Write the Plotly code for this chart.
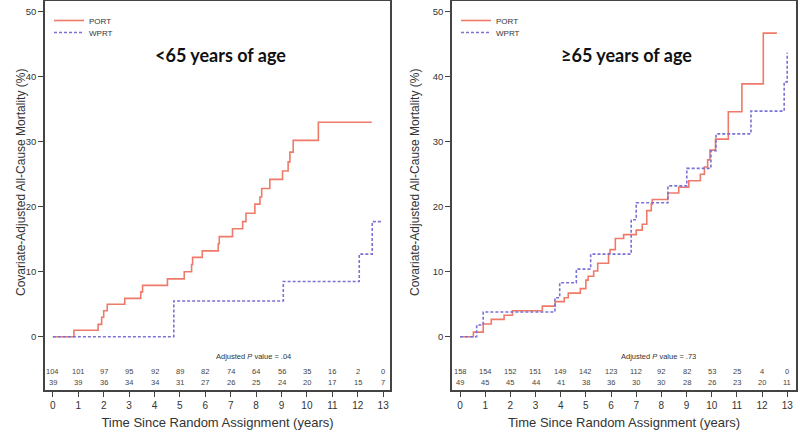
import plotly.graph_objects as go

# ---- data ----
years = list(range(0, 14))

# <65 years of age
left_port_t = [0, 0.83, 1.78, 1.92, 2.0, 2.14, 2.83, 3.46, 3.53, 4.51, 5.17, 5.46, 5.5, 5.88,
               6.51, 6.55, 7.07, 7.47, 7.6, 7.95, 8.15, 8.22, 8.54, 9.04, 9.26, 9.33, 9.46,
               10.45, 12.55]
left_port_v = [0, 1.0, 1.9, 3.0, 4.0, 5.0, 5.9, 6.9, 7.9, 8.9, 10.0, 11.1, 12.2, 13.2,
               14.3, 15.4, 16.6, 17.7, 19.0, 20.4, 21.5, 22.8, 24.2, 25.5, 26.9, 28.4, 30.2,
               33.0, 33.0]
left_wprt_t = [0, 4.76, 9.07, 12.06, 12.57, 12.98]
left_wprt_v = [0, 5.5, 8.5, 12.7, 17.7, 17.7]
left_risk_port = [104, 101, 97, 95, 92, 89, 82, 74, 64, 56, 35, 16, 2, 0]
left_risk_wprt = [39, 39, 36, 34, 34, 31, 27, 26, 25, 24, 20, 17, 15, 7]

# >=65 years of age
right_port_t = [0, 0.53, 0.92, 1.24, 1.75, 2.08, 3.27, 3.78, 4.14, 4.3, 4.78, 5.0, 5.09, 5.31,
                5.47, 5.9, 5.96, 6.17, 6.5, 7.0, 7.24, 7.42, 7.6, 7.64, 8.26, 8.69, 9.09,
                9.55, 9.71, 9.84, 9.93, 10.15, 10.66, 11.2, 12.05, 12.59]
right_port_v = [0, 0.7, 1.95, 2.66, 3.3, 4.0, 4.7, 5.4, 6.0, 6.7, 7.4, 8.7, 9.3, 10.1,
                11.3, 12.8, 13.4, 15.1, 15.7, 16.4, 17.3, 19.4, 20.4, 21.1, 22.1, 23.0, 24.0,
                25.0, 26.1, 27.2, 28.7, 30.4, 34.6, 38.9, 46.7, 46.7]
right_wprt_t = [0, 0.66, 0.92, 3.77, 3.96, 4.62, 5.19, 6.8, 7.0, 8.26, 9.01, 9.97, 10.17,
                11.56, 12.88, 13.0]
right_wprt_v = [0, 1.8, 3.8, 6.0, 8.3, 10.4, 12.7, 18.0, 20.6, 23.2, 25.9, 28.6, 31.2,
                34.7, 39.2, 43.7]
right_risk_port = [158, 154, 152, 151, 149, 142, 123, 112, 92, 82, 53, 25, 4, 0]
right_risk_wprt = [49, 45, 45, 44, 41, 38, 36, 30, 30, 28, 26, 23, 20, 11]

panel_titles = ["<65 years of age", "≥65 years of age"]
p_values = [".04", ".73"]

PORT_COLOR = "#EE7B6A"
WPRT_COLOR = "#7A72D4"
AXIS_COLOR = "#444444"
FONT = "Liberation Sans, Arial, sans-serif"

fig = go.Figure()

panels = [
    ("x", "y", ("legend", "legend3"), left_port_t, left_port_v, left_wprt_t, left_wprt_v,
     left_risk_port, left_risk_wprt),
    ("x2", "y2", ("legend2", "legend4"), right_port_t, right_port_v, right_wprt_t, right_wprt_v,
     right_risk_port, right_risk_wprt),
]

for i, (xa, ya, lg, pt, pv, wt, wv, rp, rw) in enumerate(panels):
    fig.add_trace(go.Scatter(x=pt, y=pv, mode="lines", line_shape="hv", name="PORT",
                             line=dict(color=PORT_COLOR, width=1.6),
                             xaxis=xa, yaxis=ya, legend=lg[0]))
    fig.add_trace(go.Scatter(x=wt, y=wv, mode="lines", line_shape="hv", name="WPRT",
                             line=dict(color=WPRT_COLOR, width=1.6, dash="3px,2px"),
                             xaxis=xa, yaxis=ya, legend=lg[1]))
    for yr, a, b in zip(years, rp, rw):
        fig.add_annotation(x=yr, y=-5.4, xref=xa, yref=ya, text=str(a),
                           showarrow=False, font=dict(size=7.5, color="#444", family=FONT))
        fig.add_annotation(x=yr, y=-7.1, xref=xa, yref=ya, text=str(b),
                           showarrow=False, font=dict(size=7.5, color="#444", family=FONT))
    fig.add_annotation(x=7.9, y=-3.1, xref=xa, yref=ya,
                       text=f"Adjusted <i>P</i> value = {p_values[i]}",
                       showarrow=False, font=dict(size=7.5, color="#333", family=FONT))
    fig.add_annotation(x=6.6, y=43.3, xref=xa, yref=ya, text=f"<b>{panel_titles[i]}</b>",
                       showarrow=False,
                       font=dict(size=18, color="#111", family="Lato, Open Sans, sans-serif"))

# y-axis titles
for xp in [12 / 800, 415 / 800]:
    fig.add_annotation(x=xp, y=1 - 183 / 435, xref="paper", yref="paper",
                       text="Covariate-Adjusted All-Cause Mortality (%)", textangle=-90,
                       showarrow=False, font=dict(size=12, color="#333", family=FONT))

common_x = dict(
    tickvals=years, ticktext=[str(v) for v in years], ticks="outside", ticklen=5,
    tickcolor=AXIS_COLOR, tickfont=dict(size=10, color="#333", family=FONT),
    showline=True, mirror=True, linecolor=AXIS_COLOR, linewidth=1.5,
    showgrid=False, zeroline=False,
    title=dict(text="Time Since Random Assignment (years)",
               font=dict(size=13, color="#333", family=FONT), standoff=8),
)
common_y = dict(
    tickvals=[0, 10, 20, 30, 40, 50], ticks="outside", ticklen=5, tickcolor=AXIS_COLOR,
    tickfont=dict(size=9.5, color="#333", family=FONT),
    showline=True, mirror=True, linecolor=AXIS_COLOR, linewidth=1.5,
    showgrid=False, zeroline=False, range=[-8.2, 51.65],
)


def leg(xpx, ytop):
    return dict(x=xpx / 800, y=1 - ytop / 435, xanchor="left", yanchor="top",
                font=dict(size=8, color="#333", family=FONT), bgcolor="rgba(0,0,0,0)",
                itemwidth=30)


ydom = [1 - 390 / 435, 1 - 1 / 435]
fig.update_layout(
    width=800, height=435,
    margin=dict(l=0, r=0, t=0, b=0),
    paper_bgcolor="white", plot_bgcolor="white",
    xaxis=dict(common_x, domain=[45 / 800, 390 / 800], range=[-0.31, 13.27], anchor="y"),
    yaxis=dict(common_y, domain=ydom, anchor="x"),
    xaxis2=dict(common_x, domain=[452 / 800, 796 / 800], range=[-0.32, 13.35], anchor="y2"),
    yaxis2=dict(common_y, domain=ydom, anchor="x2"),
    legend=leg(49, 6),
    legend3=leg(49, 18),
    legend2=leg(456, 6),
    legend4=leg(456, 18),
    showlegend=True,
)

fig.write_html("out.html")
